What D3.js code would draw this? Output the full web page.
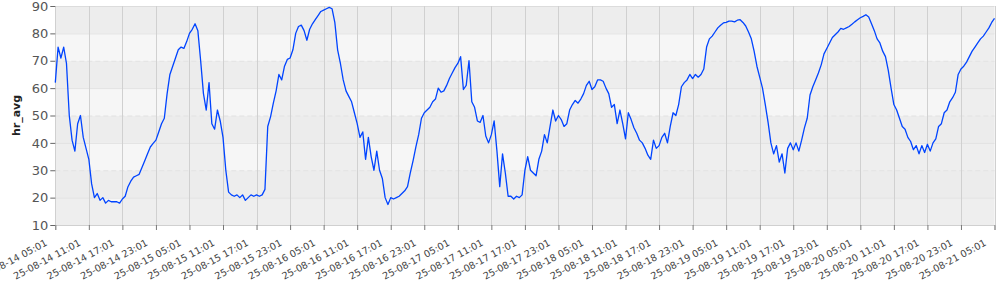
<!DOCTYPE html>
<html><head><meta charset="utf-8">
<script src="https://cdn.jsdelivr.net/npm/d3@7"></script>
<style>body{margin:0;background:#fff;overflow:hidden}</style>
</head><body><svg id="c" width="1000" height="290"></svg>
<script>
// x tick labels (every 6 hours)
const tickLabels = [
  "25-08-14 05:01","25-08-14 11:01","25-08-14 17:01","25-08-14 23:01",
  "25-08-15 05:01","25-08-15 11:01","25-08-15 17:01","25-08-15 23:01",
  "25-08-16 05:01","25-08-16 11:01","25-08-16 17:01","25-08-16 23:01",
  "25-08-17 05:01","25-08-17 11:01","25-08-17 17:01","25-08-17 23:01",
  "25-08-18 05:01","25-08-18 11:01","25-08-18 17:01","25-08-18 23:01",
  "25-08-19 05:01","25-08-19 11:01","25-08-19 17:01","25-08-19 23:01",
  "25-08-20 05:01","25-08-20 11:01","25-08-20 17:01","25-08-20 23:01",
  "25-08-21 05:01"
];
const yTicks = [10, 20, 30, 40, 50, 60, 70, 80, 90];
const yLabel = "hr_avg";
const stepMinutes = 30;
// hr_avg, one value every 30 minutes from 25-08-14 05:01 (12 values per 6-hour row)
const hrAvg = [
  62, 75, 71, 75, 69, 50, 41, 37, 47, 50, 42, 38,
  34, 25, 20, 21.5, 19, 20, 18, 19, 18.5, 18.5, 18.5, 18,
  19.5, 20.5, 24, 26, 27.5, 28, 28.5, 31, 33.5, 36, 38.5, 39.8,
  41, 44, 47, 49, 58, 65, 68, 71, 74, 75, 74.5, 77,
  80, 81.5, 83.5, 81, 70, 58, 52, 62, 47, 45, 52, 48,
  42, 30, 22, 21, 20.5, 21, 20, 21, 19, 20, 21, 20.5,
  21, 20.5, 21, 23, 46, 49.5, 54.5, 59, 65, 63, 68, 70.5,
  71, 74, 80, 82.5, 83, 81, 77.5, 81.5, 83.5, 85, 86.5, 88,
  88.5, 89, 89.5, 89, 84, 74, 69, 63, 59, 57, 55, 51,
  47, 42, 44, 34, 42, 35, 30, 37, 30, 27, 20, 17.5,
  20, 19.5, 20, 20.5, 21.5, 22.5, 24, 29, 33.5, 38.5, 43, 49,
  51, 52, 53, 55, 56, 60, 58.5, 59, 61, 63.5, 65.5, 67.5,
  69, 71.5, 59.5, 61, 70, 55, 53, 48, 47.5, 50, 42.5, 40,
  43, 48, 37, 24, 36, 29, 20.5, 20.5, 19.5, 20.5, 20, 21,
  30, 35, 30, 29, 28, 34, 37, 43, 40, 46, 52, 48,
  50, 48.5, 46, 47, 52, 54, 55.5, 54.5, 56, 58, 61, 62.5,
  59.5, 60.5, 63, 63, 62.5, 60, 58, 53, 54, 47, 52, 47,
  41.5, 51, 48.5, 45.5, 43.5, 41, 40, 38, 35.5, 34, 41, 38,
  39, 42, 43.5, 40, 46, 51, 50, 54, 60.5, 62, 63, 65,
  63.5, 65, 64, 65, 67, 75, 78, 79, 80.5, 82, 83, 83.8,
  84, 84.5, 84.5, 84.2, 84.8, 85, 84, 82.7, 80.5, 78, 73.5, 68,
  64, 60, 54, 47.5, 40, 36, 39, 33, 36, 29, 38, 40,
  37.5, 40, 37, 41, 45.5, 49, 57.5, 60.5, 63, 65.5, 68.5, 72.5,
  74.5, 76.5, 78.5, 79.5, 80.5, 81.8, 81.5, 82, 82.5, 83.3, 84.2, 85,
  85.7, 86.2, 86.8, 86, 83.5, 81, 78, 76.5, 73.5, 71.5, 66.5, 60,
  54, 52, 49, 46, 45, 42, 40.5, 37.5, 39, 36, 39, 36.5,
  39.5, 37, 40, 41.5, 46, 47, 51, 52, 55, 56.5, 58.5, 65,
  67, 68, 69.5, 71.5, 73.5, 75, 76.5, 78, 79, 80.5, 82, 84,
  85.5
];

const parse = d3.utcParse("%y-%m-%d %H:%M");
const fmt = d3.utcFormat("%y-%m-%d %H:%M");
const tickDates = tickLabels.map(parse);
const t0 = tickDates[0];
const data = hrAvg.map((v, i) => ({ t: new Date(+t0 + i * stepMinutes * 60000), v }));

const svg = d3.select("#c");
const L = 55.3, R = 994.5, T = 6, B = 225;
const x = d3.scaleUtc().domain([t0, tickDates[tickDates.length - 1]]).range([L, R]);
const y = d3.scaleLinear().domain([10, 90]).range([B, T]);
const font = "'DejaVu Sans', Verdana, sans-serif";

// alternating background bands
const bands = d3.range(10, 90, 10);
svg.append("g").selectAll("rect").data(bands).join("rect")
  .attr("x", L).attr("width", R - L)
  .attr("y", d => y(d + 10)).attr("height", d => y(d) - y(d + 10))
  .attr("fill", d => (d / 10) % 2 === 1 ? "#f6f6f6" : "#ededed");

// area under the curve
svg.append("path").datum(data)
  .attr("fill", "#ebebeb").attr("fill-opacity", 0.7)
  .attr("d", d3.area().x(d => x(d.t)).y0(y(10)).y1(d => y(d.v)));

// horizontal grid
svg.append("g").selectAll("line").data(yTicks.filter(v => v > 10)).join("line")
  .attr("x1", L).attr("x2", R).attr("y1", d => y(d) + 0.5).attr("y2", d => y(d) + 0.5)
  .attr("stroke", d => d === 90 ? "#dcdcdc" : "#e2e2e2")
  .attr("stroke-dasharray", d => (d / 10) % 2 === 1 && d !== 90 ? "5,3" : null);

// vertical grid
svg.append("g").selectAll("line").data(tickDates).join("line")
  .attr("x1", d => Math.round(x(d)) + 0.5).attr("x2", d => Math.round(x(d)) + 0.5)
  .attr("y1", T).attr("y2", B)
  .attr("stroke", "#d0d0d0");

// the series
svg.append("path").datum(data)
  .attr("fill", "none").attr("stroke", "#0044ff").attr("stroke-width", 1.3)
  .attr("stroke-linejoin", "round")
  .attr("d", d3.line().x(d => x(d.t)).y(d => y(d.v)));

// y axis
const ya = svg.append("g").attr("transform", `translate(${L},0)`)
  .call(d3.axisLeft(y).tickValues(yTicks).tickSize(5).tickPadding(2));
ya.select(".domain").remove();
ya.selectAll("line").attr("stroke", "#666");
ya.selectAll("text").attr("fill", "#555").style("font", `13px ${font}`);

// x axis
const xa = svg.append("g").attr("transform", `translate(0,${B})`)
  .call(d3.axisBottom(x).tickValues(tickDates).tickFormat(fmt).tickSize(5));
xa.select(".domain").attr("stroke", "#d0d0d0");
xa.selectAll("line").attr("stroke", "#777");
xa.selectAll("text")
  .attr("x", 0).attr("y", 0).attr("dy", 0)
  .attr("text-anchor", "end")
  .attr("transform", "translate(-8,20) rotate(-28)")
  .attr("fill", "#444")
  .style("font", `9.6px ${font}`);

// y label
svg.append("text")
  .attr("transform", `translate(20,${(T + B) / 2}) rotate(-90)`)
  .attr("text-anchor", "middle")
  .attr("fill", "#222")
  .style("font", `bold 11px ${font}`)
  .text(yLabel);
</script>
</body></html>
